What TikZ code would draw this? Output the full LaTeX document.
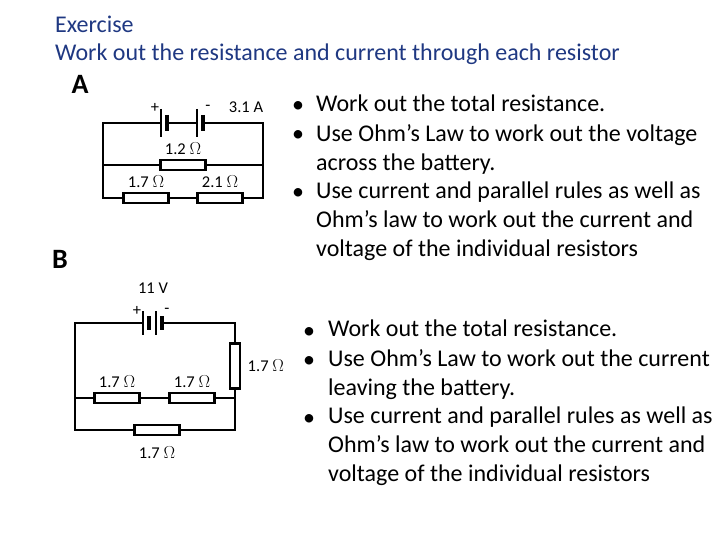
\documentclass[tikz,border=0pt]{standalone}
\usepackage{fontspec}
\setmainfont{Carlito}
\usepackage{tikz}
\usetikzlibrary{positioning}
\definecolor{titleblue}{RGB}{31,56,130}
\tikzset{>=stealth,
  wire/.style={line width=2.4pt},
  res/.style={draw,line width=2.4pt,fill=white,minimum width=45pt,minimum height=10pt,inner sep=0pt},
  vres/.style={res,minimum width=10pt,minimum height=45pt},
  lbl/.style={font=\fontsize{16.5}{18}\selectfont},
  txt/.style={font=\fontsize{24}{29}\selectfont,anchor=north west,align=left,inner sep=0pt},
  bul/.style={font=\fontsize{24}{29}\selectfont,anchor=base west,inner sep=0pt}}
\begin{document}
\begin{tikzpicture}[x=1pt,y=-1pt]
  \useasboundingbox (0,0) rectangle (720,540);
  \node[txt,text=titleblue,font=\fontsize{24}{28}\selectfont] (title) at (55,16) {Exercise\\Work out the resistance and current through each resistor};
  \node[font=\fontsize{28}{28}\selectfont\bfseries] (lA) at (80,84) {A};
  \node[font=\fontsize{28}{28}\selectfont\bfseries] (lB) at (60,259) {B};
  % circuit A
  \coordinate (atl) at (103,123); \coordinate (atr) at (263,123);
  \coordinate (aml) at (103,165); \coordinate (amr) at (263,165);
  \coordinate (abl) at (103,198); \coordinate (abr) at (263,198);
  \node[res] (r12) at (183,165) {};
  \node[res] (r17) at (146,198) {};
  \node[res] (r21) at (220,198) {};
  \coordinate (c1) at (161,123); \coordinate (c2) at (167,123);
  \coordinate (c3) at (197,123); \coordinate (c4) at (203,123);
  \draw[wire] (c1) -- (atl) -- (abl) -- (r17) -- (r21) -- (abr) -- (atr) -- (c4);
  \draw[wire] (aml) -- (r12) -- (amr);
  \draw[line width=1.5pt] (c2) -- (c3);
  \draw[line width=2.4pt] (161,109) -- (161,137) (197,109) -- (197,137);
  \draw[line width=3.5pt] (167,115) -- (167,131) (203,115) -- (203,131);
  \node[lbl] (pA) at (155,108) {+};
  \node[lbl] (mA) at (208,108) {-};
  \node[lbl] (iA) at (246,107) {3.1 A};
  \node[lbl,above=1pt of r12] {1.2 $\Omega$};
  \node[lbl,above=1pt of r17] {1.7 $\Omega$};
  \node[lbl,above=1pt of r21] {2.1 $\Omega$};
  % circuit B
  \coordinate (btl) at (75,323); \coordinate (btr) at (235,323);
  \coordinate (bml) at (75,398); \coordinate (bmr) at (235,398);
  \coordinate (bbl) at (75,430); \coordinate (bbr) at (235,430);
  \node[vres] (rv) at (235,366) {};
  \node[res] (rm1) at (117,398) {};
  \node[res] (rm2) at (192,398) {};
  \node[res] (rb) at (157,430) {};
  \coordinate (b1) at (143,323); \coordinate (b4) at (162,323);
  \draw[wire] (b1) -- (btl) -- (bbl) -- (rb) -- (bbr) -- (rv) -- (btr) -- (b4);
  \draw[wire] (bml) -- (rm1) -- (rm2) -- (bmr);
  \draw[line width=2.4pt] (143,311) -- (143,335) (156,311) -- (156,335);
  \draw[line width=3.5pt] (149,316) -- (149,330) (162,316) -- (162,330);
  \node[lbl] (pB) at (137,311) {+};
  \node[lbl] (mB) at (167,311) {-};
  \node[lbl] (vB) at (153,288) {11 V};
  \node[lbl,above=1pt of rm1] {1.7 $\Omega$};
  \node[lbl,above=1pt of rm2] {1.7 $\Omega$};
  \node[lbl,below=7pt of rb] {1.7 $\Omega$};
  \node[lbl,right=3pt of rv] {1.7 $\Omega$};
  % bullet lists
  \node[bul] (ba1) at (292,113) {\textbullet};
  \node[bul] (ba2) at (292,142) {\textbullet};
  \node[bul] (ba3) at (292,200) {\textbullet};
  \node[txt] (ta1) at (316,95) {Work out the total resistance.};
  \node[txt] (ta2) at (316,124) {Use Ohm’s Law to work out the voltage\\ across the battery.};
  \node[txt] (ta3) at (316,182) {Use current and parallel rules as well as\\ Ohm’s law to work out the current and\\ voltage of the individual resistors};
  \node[bul] (bb1) at (303,338) {\textbullet};
  \node[bul] (bb2) at (303,367) {\textbullet};
  \node[bul] (bb3) at (303,425) {\textbullet};
  \node[txt] (tb1) at (328,320) {Work out the total resistance.};
  \node[txt] (tb2) at (328,349) {Use Ohm’s Law to work out the current\\ leaving the battery.};
  \node[txt] (tb3) at (328,407) {Use current and parallel rules as well as\\ Ohm’s law to work out the current and\\ voltage of the individual resistors};
\end{tikzpicture}
\end{document}
